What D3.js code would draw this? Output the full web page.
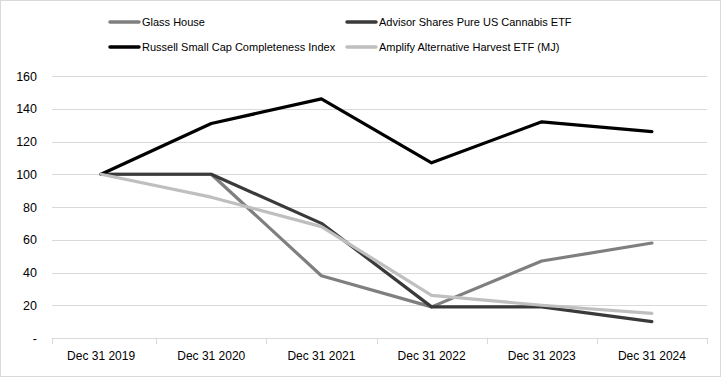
<!DOCTYPE html>
<html>
<head>
<meta charset="utf-8">
<script src="https://cdn.jsdelivr.net/npm/d3@7"></script>
<style>
  body { margin: 0; background: #fff; }
  text { font-family: "Liberation Sans", Arial, sans-serif; fill: #000; }
</style>
</head>
<body>
<script>
var categories = ['Dec 31 2019', 'Dec 31 2020', 'Dec 31 2021', 'Dec 31 2022', 'Dec 31 2023', 'Dec 31 2024'];
var glassHouse = [100, 100, 38, 19, 47, 58];
var advisorShares = [100, 100, 70, 19, 19, 10];
var russell = [100, 131, 146, 107, 132, 126];
var amplify = [100, 86, 68, 26, 20, 15];
var yTicks = [0, 20, 40, 60, 80, 100, 120, 140, 160];

var series = [
  { name: 'Glass House', values: glassHouse, color: '#7f7f7f' },
  { name: 'Advisor Shares Pure US Cannabis ETF', values: advisorShares, color: '#3a3a3a' },
  { name: 'Russell Small Cap Completeness Index', values: russell, color: '#000000' },
  { name: 'Amplify Alternative Harvest ETF (MJ)', values: amplify, color: '#bfbfbf' }
];

var w = 721, h = 377;
var margin = { top: 76, right: 14, bottom: 39, left: 46 };
var width = w - margin.left - margin.right;
var height = h - margin.top - margin.bottom;

var svg = d3.select('body').append('svg')
  .attr('width', w)
  .attr('height', h);

// outer frame
svg.append('rect')
  .attr('x', 0.5).attr('y', 0.5)
  .attr('width', w - 1).attr('height', h - 1)
  .attr('fill', 'none')
  .attr('stroke', '#d9d9d9');

var chart = svg.append('g')
  .attr('transform', 'translate(' + margin.left + ',' + margin.top + ')');

var x = d3.scaleBand()
  .domain(categories)
  .range([0, width]);
var y = d3.scaleLinear()
  .domain([0, 160])
  .range([height, 0]);

// gridlines
chart.selectAll('.grid')
  .data(yTicks.filter(function(d){ return d > 0; }))
  .enter().append('line')
  .attr('x1', 6).attr('x2', width)
  .attr('y1', function(d){ return Math.round(y(d)) + 0.5; })
  .attr('y2', function(d){ return Math.round(y(d)) + 0.5; })
  .attr('stroke', '#d9d9d9');

// y axis labels
var yAxis = d3.axisLeft(y)
  .tickValues(yTicks)
  .tickSize(0)
  .tickPadding(9)
  .tickFormat(function(d){ return d === 0 ? '-' : d; });
var yg = chart.append('g').call(yAxis);
yg.select('.domain').remove();
yg.selectAll('text').style('font-size', '12.5px').style('font-family', '"Liberation Sans", Arial, sans-serif');

// x axis
var xAxis = d3.axisBottom(x).tickSize(0).tickPadding(13);
var xg = chart.append('g')
  .attr('transform', 'translate(0,' + (Math.round(height) + 0.5) + ')')
  .call(xAxis);
xg.select('.domain').attr('stroke', '#d9d9d9').attr('d', 'M6,0H' + width);
xg.selectAll('text').style('font-size', '12px').style('font-family', '"Liberation Sans", Arial, sans-serif');
// category separators
chart.selectAll('.sep')
  .data(d3.range(categories.length + 1))
  .enter().append('line')
  .attr('x1', function(i){ return Math.round(i === 0 ? 6 : i * x.step()) + 0.5; })
  .attr('x2', function(i){ return Math.round(i === 0 ? 6 : i * x.step()) + 0.5; })
  .attr('y1', height).attr('y2', height + 6)
  .attr('stroke', '#d9d9d9');

// lines
var line = d3.line()
  .x(function(d, i){ return x(categories[i]) + x.bandwidth() / 2; })
  .y(function(d){ return y(d); });

chart.selectAll('.series')
  .data(series)
  .enter().append('path')
  .attr('d', function(d){ return line(d.values); })
  .attr('fill', 'none')
  .attr('stroke', function(d){ return d.color; })
  .attr('stroke-width', 3.2)
  .attr('stroke-linejoin', 'round')
  .attr('stroke-linecap', 'round');

// legend
var legendPos = [
  { x: 108, y: 22 },
  { x: 345, y: 22 },
  { x: 108, y: 47 },
  { x: 345, y: 47 }
];
var legend = svg.selectAll('.legend')
  .data(series)
  .enter().append('g')
  .attr('transform', function(d, i){ return 'translate(' + legendPos[i].x + ',' + legendPos[i].y + ')'; });
legend.append('line')
  .attr('x1', 2).attr('x2', 31)
  .attr('y1', 0).attr('y2', 0)
  .attr('stroke', function(d){ return d.color; })
  .attr('stroke-width', 3.5)
  .attr('stroke-linecap', 'round');
legend.append('text')
  .attr('x', 34)
  .attr('y', 0)
  .attr('dy', '0.35em')
  .style('font-size', '11px')
  .text(function(d){ return d.name; });
</script>
</body>
</html>
